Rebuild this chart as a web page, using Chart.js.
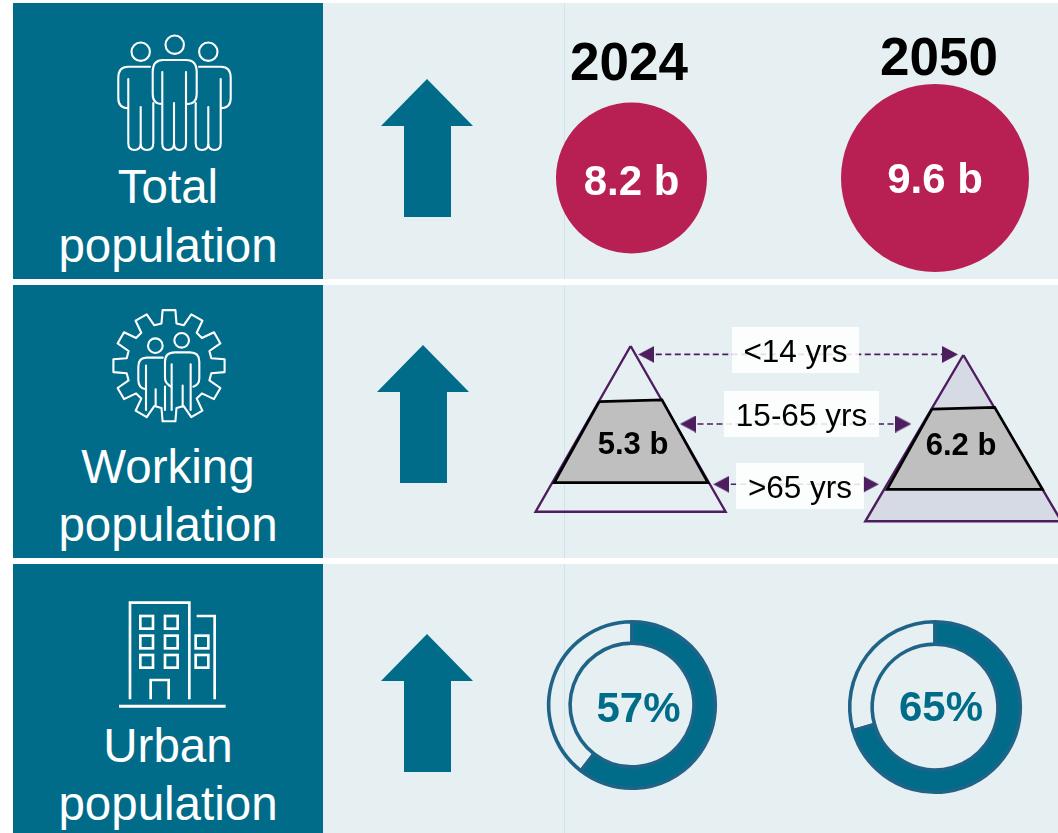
<!DOCTYPE html>
<html>
<head>
<meta charset="utf-8">
<title>Population megatrends</title>
<script src="https://cdn.jsdelivr.net/npm/chart.js@4"></script>
<style>
html,body{margin:0;padding:0;background:#fff;width:1058px;height:833px;overflow:hidden;font-family:"Liberation Sans",Arial,sans-serif}
.abs{position:absolute}
canvas.abs{display:block}
.t{position:absolute;white-space:nowrap;line-height:1;transform:translateX(-50%)}
</style>
</head>
<body>
<div id="page"></div>
<script>
// ---- values ----
const years = ["2024", "2050"];
const totalPopulation = [8.2, 9.6];            // billions
const workingPopulation = [5.3, 6.2];          // billions
const urbanShareLabels = [57, 65];             // printed %
const urbanRingDrawn = [60.5, 70.5];           // % sweep the rings actually show
const ageGroups = ["<14 yrs", "15-65 yrs", ">65 yrs"];
const ageShares2024 = [0.33, 0.494, 0.176];    // pyramid height per band
const ageShares2050 = [0.32, 0.488, 0.192];
const rowTitles = [["Total","population"],["Working","population"],["Urban","population"]];

// ---- layout ----
const TEAL="#006C89", PANEL="#E6EFF2", PINK="#B81F52", PURPLE="#4E1D5F";
const rows=[[3,279],[285,558],[564,833]];
const page=document.getElementById("page");
function box(x,y,w,h,bg){const d=document.createElement("div");d.className="abs";d.style.cssText=`left:${x}px;top:${y}px;width:${w}px;height:${h}px;background:${bg}`;page.appendChild(d);return d;}
rows.forEach(([a,b])=>{box(13,a,310,b-a,TEAL);box(323,a,735,b-a,PANEL);box(564,a,1,b-a,"#CFE3EA");});

// icons and direction arrows (decoration)
function gearPath(cx,cy,R,r,n){
  let p="";const st=2*Math.PI/n;
  for(let i=0;i<n;i++){
    const a=-Math.PI/2+i*st;
    const pt=(rad,off)=>[(cx+rad*Math.cos(a+off)).toFixed(1),(cy+rad*Math.sin(a+off)).toFixed(1)].join(",");
    p+=(i?"L":"M")+pt(r,-0.175)+"L"+pt(R,-0.115)+"L"+pt(R,0.115)+"L"+pt(r,0.175);
  }
  return p+"Z";
}
function upArrow(x,tip){return `<path fill="${TEAL}" d="M${x},${tip}L${x+46},${tip+47}H${x+24}V${tip+138}H${x-23}V${tip+47}H${x-46}Z"/>`;}
const person=`M150,66.7H128Q118.3,66.7 118.3,78V98Q118.3,108 128,108.3M128.3,79V143Q128.3,150 134.5,150Q140.7,150 140.7,143V107M140.7,143Q140.7,150 147,150Q153.3,150 153.3,143V103`;
const svg=`<svg class="abs" style="left:0;top:0" width="1058" height="833" xmlns="http://www.w3.org/2000/svg">
${upArrow(427,79)}${upArrow(423,345)}${upArrow(427,634)}
<g fill="none" stroke="#fff" stroke-width="2.1" stroke-linecap="round" stroke-linejoin="round">
 <circle cx="140.7" cy="51.7" r="9.2"/><circle cx="174.7" cy="44.7" r="9.2"/><circle cx="208.3" cy="51.7" r="9.2"/>
 <path d="M162,104Q152.7,104 152.7,94V72Q152.7,60 163,60H186Q196.7,60 196.7,72V94Q196.7,104 187,104M162.3,72V143Q162.3,150 168,150Q174,150 174,143V103M174,143Q174,150 180,150Q186,150 186,143V72"/>
 <path d="${person}"/><path d="${person}" transform="translate(349,0) scale(-1,1)"/>
 <path d="${gearPath(169,365.7,56,43,12)}"/>
 <g transform="translate(90,295) scale(.3333)" stroke-width="6.3">
  <circle cx="196" cy="152" r="22"/><circle cx="275" cy="136" r="22"/>
  <path d="M218,188H170Q145,188 145,215V255Q145,280 168,283M168,212V345M197,283V332M225,275V345M245,208V345M278,272V335M302,208V345"/>
  <path d="M243,275Q225,265 225,250V200Q225,172 255,172H300Q328,172 328,200V250Q328,270 310,275"/>
 </g>
 <g transform="translate(100,590) scale(.3333)" stroke-width="8" stroke-linecap="butt" stroke-linejoin="miter">
  <path d="M90,328V38H268V328M290,78H344V328M152,328V270H206V328"/>
  <rect x="121" y="78" width="38" height="38"/><rect x="195" y="78" width="38" height="38"/>
  <rect x="121" y="137" width="38" height="38"/><rect x="195" y="137" width="38" height="38"/><rect x="287" y="137" width="38" height="38"/>
  <rect x="121" y="195" width="38" height="38"/><rect x="195" y="195" width="38" height="38"/><rect x="287" y="195" width="38" height="38"/>
  <path d="M57,349H377" stroke-width="9"/>
 </g>
</g></svg>`;
page.insertAdjacentHTML("beforeend",svg);

function addCanvas(x,y,w,h){const c=document.createElement("canvas");c.className="abs";c.width=w;c.height=h;c.style.cssText=`left:${x}px;top:${y}px;width:${w}px;height:${h}px`;page.appendChild(c);return c;}
const quiet={legend:{display:false},tooltip:{enabled:false},title:{display:false}};

// ---- total population: bubbles ----
const bubbleRadius=v=>75.5*Math.pow(v/8.2,1.39);
new Chart(addCanvas(323,3,735,276),{
  type:"bubble",
  data:{labels:years,datasets:[{
    data:years.map((y,i)=>({x:y,y:0,v:totalPopulation[i]})),
    backgroundColor:PINK,borderWidth:0,clip:false,
    radius:ctx=>bubbleRadius(totalPopulation[ctx.dataIndex])
  }]},
  options:{responsive:false,animation:false,events:[],
    layout:{autoPadding:false,padding:{left:308.5,right:123,top:74,bottom:0}},
    scales:{x:{type:"category",offset:false,display:false},
            y:{display:false,min:-1,max:1}},
    plugins:quiet}
});

// ---- working population: pyramids ----
function pyramid(ax,ay,by,hw,shares,insetL,insetR){
  const at=f=>({l:ax-hw*f,r:ax+hw*f,y:ay+(by-ay)*f});
  const top=at(shares[0]), bot=at(shares[0]+shares[1]);
  return {
    outline:[{x:ax,y:ay},{x:ax+hw,y:by},{x:ax-hw,y:by},{x:ax,y:ay}],
    band:[{x:top.l,y:top.y+0.85},{x:top.r,y:top.y-0.85},{x:bot.r-insetR,y:bot.y},{x:bot.l+insetL,y:bot.y},{x:top.l,y:top.y+0.85}]
  };
}
const p24=pyramid(630.6,346,511.7,95,ageShares2024,2,1);
const p50=pyramid(963.3,355,521.3,98,ageShares2050,3,0);
function headCanvas(dir){
  const c=document.createElement("canvas");c.width=16;c.height=17;
  const g=c.getContext("2d");g.fillStyle=PURPLE;g.beginPath();
  if(dir<0){g.moveTo(0,8.5);g.lineTo(16,0);g.lineTo(16,17);}else{g.moveTo(16,8.5);g.lineTo(0,0);g.lineTo(0,17);}
  g.closePath();g.fill();return c;
}
const hl=headCanvas(-1),hr=headCanvas(1);
const leaderRows=[[354.4,638.3,958],[424,680,911.3],[484.3,713.3,878.7]];
const lineDs=(data,o)=>Object.assign({data,showLine:true,tension:0,pointRadius:0,clip:false,borderJoinStyle:"miter"},o);
new Chart(addCanvas(323,285,735,273),{
  type:"scatter",
  data:{datasets:[
    lineDs(p24.band,{order:1,fill:"shape",backgroundColor:"#BFBFBF",borderColor:"#000",borderWidth:2.7}),
    lineDs(p50.band,{order:1,fill:"shape",backgroundColor:"#BFBFBF",borderColor:"#000",borderWidth:2.7}),
    lineDs(p24.outline,{order:3,fill:false,borderColor:PURPLE,borderWidth:2.4}),
    lineDs(p50.outline,{order:3,fill:"shape",backgroundColor:"#D6DAE4",borderColor:PURPLE,borderWidth:2.4}),
    ...leaderRows.map(([y,a,b])=>lineDs([{x:a+8,y},{x:b-8,y}],{order:2,fill:false,borderColor:PURPLE,borderWidth:1.6,borderDash:[6,3.5],pointRadius:8,pointStyle:[hl,hr]}))
  ]},
  options:{responsive:false,animation:false,events:[],
    layout:{autoPadding:false,padding:0},
    scales:{x:{type:"linear",display:false,min:323,max:1058},
            y:{type:"linear",display:false,min:285,max:558,reverse:true}},
    plugins:quiet}
});

// ---- urban population: rings ----
function ring(cx,cy,R,rIn,share){
  const S=2*Math.ceil(R)+12;
  new Chart(addCanvas(Math.round(cx-S/2),Math.round(cy-S/2),S,S),{
    type:"doughnut",
    data:{labels:["urban","rural"],datasets:[{data:[share,100-share],
      backgroundColor:[TEAL,"rgba(0,0,0,0)"],borderColor:"#1F6488",borderWidth:3.6,borderAlign:"center"}]},
    options:{responsive:false,animation:false,events:[],radius:R,cutout:rIn,rotation:0,circumference:360,
      layout:{padding:0},plugins:quiet}
  });
}
ring(632,705,83.3,65.5,urbanRingDrawn[0]);
ring(935,706.5,85.3,66.5,urbanRingDrawn[1]);

// ---- text ----
function text(str,cx,base,size,color,bold){
  const d=document.createElement("div");d.className="t";d.textContent=str;
  d.style.cssText=`left:${cx}px;top:${base-0.8465*size}px;font-size:${size}px;color:${color};font-weight:${bold?700:400}`;
  page.appendChild(d);return d;
}
[[203.5,262.5],[483.5,541.5],[762.5,820.5]].forEach((b,i)=>{
  text(rowTitles[i][0],168,b[0],47.5,"#fff");
  text(rowTitles[i][1],168,b[1],47.5,"#fff");
});
text(years[0],629,80,53,"#000",true);
text(years[1],939,75,53,"#000",true);
text(totalPopulation[0].toFixed(1)+" b",631.5,195.5,42,"#fff",true);
text(totalPopulation[1].toFixed(1)+" b",935,194,42,"#fff",true);
text(workingPopulation[0].toFixed(1)+" b",633,454.5,31,"#000",true);
text(workingPopulation[1].toFixed(1)+" b",961,455,31,"#000",true);
[[732,327,127,46,362.5],[724,391,155,46,426.5],[736,463,128,46,498.5]].forEach(([x,y,w,h,b],i)=>{
  box(x,y,w,h,"rgba(255,255,255,.86)");
  text(ageGroups[i],x+w/2,b,31.5,"#000");
});
text(urbanShareLabels[0]+"%",638.5,722.5,42,TEAL,true);
text(urbanShareLabels[1]+"%",941,722,42,TEAL,true);
</script>
</body>
</html>
